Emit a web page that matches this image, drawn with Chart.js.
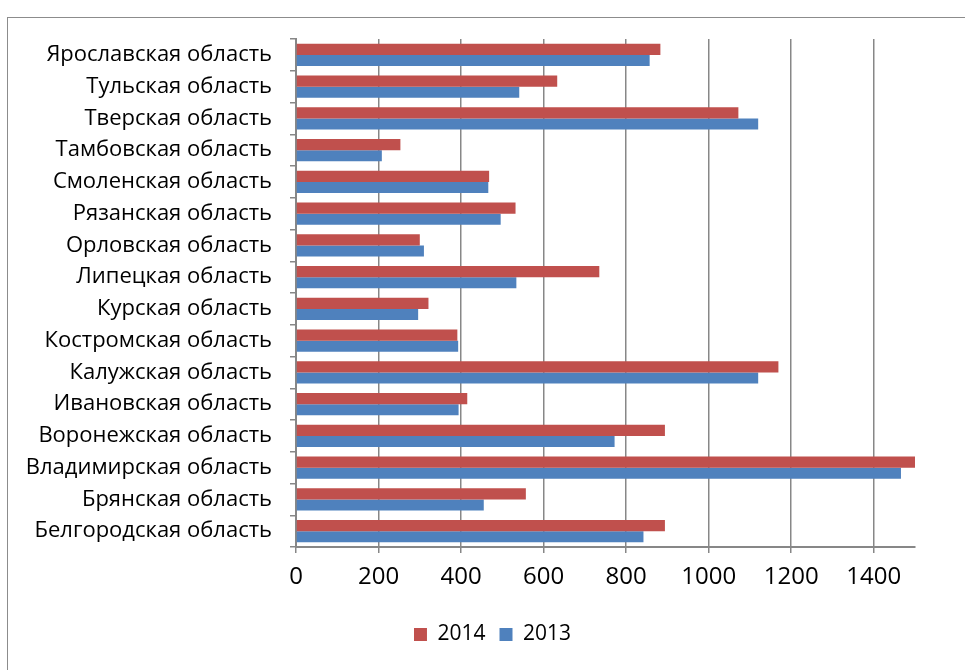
<!DOCTYPE html>
<html>
<head>
<meta charset="utf-8">
<script src="https://cdn.jsdelivr.net/npm/chart.js@4.4.1/dist/chart.umd.min.js"></script>
<style>
    html, body { margin: 0; padding: 0; background: #fff; overflow: hidden; }
    #wrap { position: relative; width: 965px; height: 670px; }
    #frame {
        position: absolute; left: 7px; top: 17px; width: 1000px; height: 700px;
        border: 1.5px solid #8c8c8c; box-sizing: border-box;
    }
    canvas { position: absolute; left: 0; top: 0; }
</style>
</head>
<body>
<div id="wrap">
    <div id="frame"></div>
    <canvas id="chart" width="965" height="670"></canvas>
</div>
<script>
// Категории (сверху вниз, как на картинке)
const regions = [
    'Ярославская область',
    'Тульская область',
    'Тверская область',
    'Тамбовская область',
    'Смоленская область',
    'Рязанская область',
    'Орловская область',
    'Липецкая область',
    'Курская область',
    'Костромская область',
    'Калужская область',
    'Ивановская область',
    'Воронежская область',
    'Владимирская область',
    'Брянская область',
    'Белгородская область'
];

const values2014 = [883, 633, 1072, 253, 468, 532, 300, 735, 321, 391, 1169, 415, 894, 1505, 557, 894];
const values2013 = [857, 541, 1120, 208, 466, 496, 310, 534, 296, 393, 1120, 394, 772, 1466, 455, 842];

const xTicks = [0, 200, 400, 600, 800, 1000, 1200, 1400];

const RED = '#C0504D';
const BLUE = '#4F81BD';
const GRID = '#878787';

Chart.defaults.font.family = '"Open Sans", Lato, sans-serif';
Chart.defaults.color = '#000';

// легенда в оригинале чуть правее центра
const legendShift = {
    id: 'legendShift',
    afterLayout(chart) {
        if (!chart.legend) return;
        chart.legend.left += 25;
        chart.legend.right += 25;
    }
};

new Chart(document.getElementById('chart'), {
    type: 'bar',
    data: {
        labels: regions,
        datasets: [
            { label: '2014', data: values2014, backgroundColor: RED },
            { label: '2013', data: values2013, backgroundColor: BLUE }
        ]
    },
    plugins: [legendShift],
    options: {
        indexAxis: 'y',
        responsive: false,
        animation: false,
        categoryPercentage: 0.7,
        barPercentage: 1.0,
        layout: { padding: { top: 39, right: 50, left: 20, bottom: 15 } },
        plugins: {
            tooltip: { enabled: false },
            legend: {
                position: 'bottom',
                labels: {
                    boxWidth: 13,
                    boxHeight: 13,
                    padding: 14,
                    font: { size: 21 }
                }
            }
        },
        scales: {
            x: {
                min: 0,
                max: 1500,
                afterBuildTicks: (axis) => { axis.ticks = xTicks.map(v => ({ value: v })); },
                grid: { color: GRID, lineWidth: 1.5, tickLength: 6 },
                border: { color: GRID, width: 2 },
                ticks: {
                    font: { size: 24 },
                    padding: 10,
                    maxRotation: 0,
                    callback: (v) => String(v)
                },
                afterFit: (axis) => { axis.height = 63; }
            },
            y: {
                grid: { drawOnChartArea: false, color: GRID, lineWidth: 1.5, tickLength: 6, offset: true },
                border: { color: GRID, width: 2 },
                ticks: { font: { size: 22 }, padding: 18, autoSkip: false },
                afterFit: (axis) => { axis.width = 276; }
            }
        }
    }
});
</script>
</body>
</html>
